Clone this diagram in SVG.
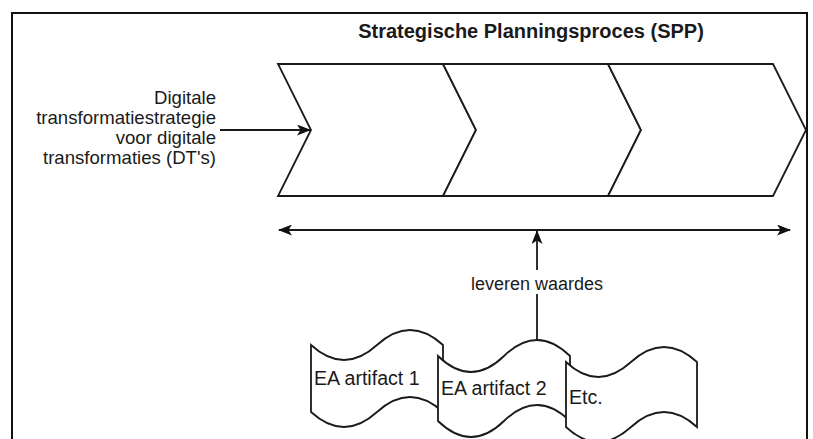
<svg xmlns="http://www.w3.org/2000/svg" width="813" height="439" viewBox="0 0 813 439">
  <style>
    .shape { fill: #ffffff; stroke: #1a1a1a; stroke-width: 1.8; stroke-linejoin: miter; }
    .line { fill: none; stroke: #1a1a1a; stroke-width: 1.8; }
    .txt { font-family: "Liberation Sans", Arial, Helvetica, sans-serif; fill: #1a1a1a; }
  </style>
  <defs>
    <marker id="arrow" viewBox="0 0 14 11" refX="13" refY="5.5" markerWidth="14" markerHeight="11" markerUnits="userSpaceOnUse" orient="auto-start-reverse">
      <path d="M0,0 L14,5.5 L0,11 L3.5,5.5 Z" fill="#111"/>
    </marker>
  </defs>

  <rect width="813" height="439" fill="#ffffff"/>

  <!-- outer frame (open at the bottom) -->
  <path d="M12,440 V13 H807 V440" fill="none" stroke="#111" stroke-width="2"/>

  <!-- title -->
  <g id="title">
    <text class="txt" x="531" y="38" font-size="20" font-weight="bold" text-anchor="middle">Strategische Planningsproces (SPP)</text>
  </g>

  <!-- process steps -->
  <g id="step1">
    <path class="shape" d="M278,64 H443 L476,130 L443,196 H278 L311,130 Z"/>
  </g>
  <g id="step2">
    <path class="shape" d="M443,64 H608 L641,130 L608,196 H443 L476,130 Z"/>
  </g>
  <g id="step3">
    <path class="shape" d="M608,64 H773 L806,130 L773,196 H608 L641,130 Z"/>
  </g>

  <!-- input label -->
  <g id="input" class="txt" font-size="18.6" text-anchor="end">
    <text x="216" y="104">Digitale</text>
    <text x="216" y="124">transformatiestrategie</text>
    <text x="216" y="144">voor digitale</text>
    <text x="216" y="164">transformaties (DT's)</text>
  </g>

  <!-- artifacts (tape shapes) -->
  <g id="artifact1">
    <path class="shape" d="M311,345 Q344,375 377,345 Q410,315 443,345 L443,412 Q410,382 377,412 Q344,442 311,412 Z"/>
    <text class="txt" x="314" y="385" font-size="19.6">EA artifact 1</text>
  </g>
  <g id="artifact2">
    <path class="shape" d="M438,356 Q471,388 504,356 Q537,324 570,356 L570,421 Q537,389 504,421 Q471,453 438,421 Z"/>
    <text class="txt" x="441" y="395" font-size="19.6">EA artifact 2</text>
  </g>
  <g id="artifact3">
    <path class="shape" d="M566,362 Q598,392 631,362 Q664,332 697,362 L697,427 Q664,397 631,427 Q598,457 566,427 Z"/>
    <text class="txt" x="569" y="404" font-size="19.6">Etc.</text>
  </g>

  <!-- connectors -->
  <g id="connectors">
    <line class="line" x1="220" y1="130" x2="310" y2="130" marker-end="url(#arrow)"/>
    <line class="line" x1="279" y1="230" x2="790" y2="230" marker-start="url(#arrow)" marker-end="url(#arrow)"/>
    <line class="line" x1="537" y1="340" x2="537" y2="231" marker-end="url(#arrow)"/>
    <rect x="470" y="270" width="135" height="24" fill="#ffffff"/>
    <text class="txt" x="537" y="290" font-size="18" text-anchor="middle">leveren waardes</text>
  </g>
</svg>
